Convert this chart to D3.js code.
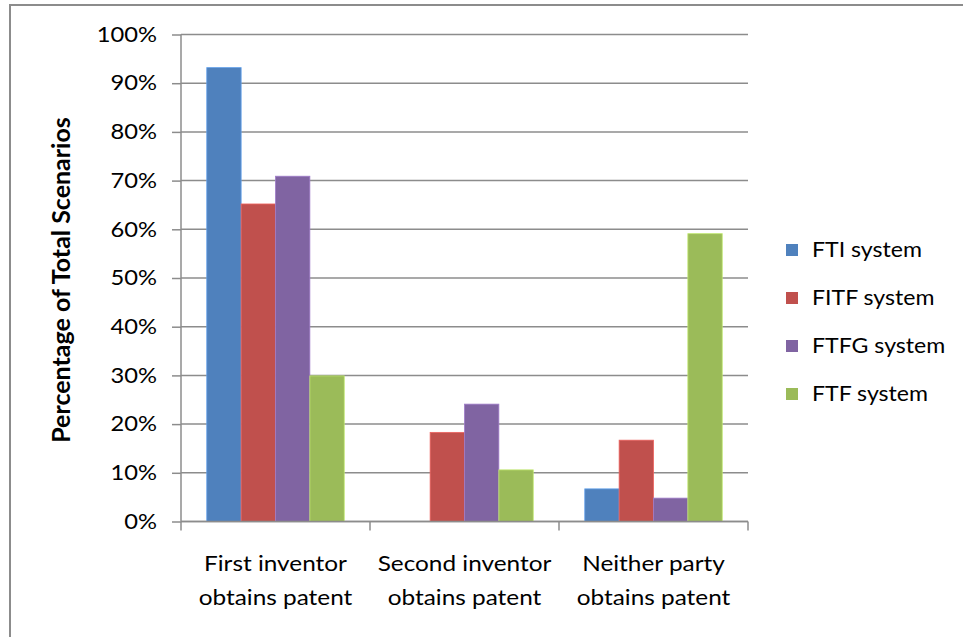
<!DOCTYPE html>
<html>
<head>
<meta charset="utf-8">
<script src="https://cdn.jsdelivr.net/npm/d3@7"></script>
<style>
  html, body { margin: 0; padding: 0; background: #fff; }
  svg { display: block; }
  text { font-family: Lato, "Open Sans", sans-serif; fill: #000; }
</style>
</head>
<body>
<svg id="chart" width="963" height="637"></svg>
<script>
// Outcome categories (two-line labels)
const categories = [
  ["First inventor", "obtains patent"],
  ["Second inventor", "obtains patent"],
  ["Neither party", "obtains patent"]
];
const seriesNames = ["FTI system", "FITF system", "FTFG system", "FTF system"];
const seriesColors = ["#4F81BD", "#C0504D", "#8064A2", "#9BBB59"];
// Share of scenarios (%) per category, one array per system
const fti  = [93.2, 0, 6.7];
const fitf = [65.2, 18.3, 16.7];
const ftfg = [70.9, 24.1, 4.8];
const ftf  = [29.9, 10.6, 59.1];
const seriesValues = [fti, fitf, ftfg, ftf];
const yTicks = [0, 10, 20, 30, 40, 50, 60, 70, 80, 90, 100];

const svg = d3.select("#chart");

// widen glyphs horizontally about a fixed x anchor
function widen(sel, s, anchorX) {
  sel.each(function () {
    const ax = anchorX != null ? anchorX : (+d3.select(this).attr("x") || 0);
    d3.select(this).attr("transform", `translate(${ax},0) scale(${s},1) translate(${-ax},0)`);
  });
}

// outer frame
svg.append("rect")
  .attr("x", 10).attr("y", 5)
  .attr("width", 980).attr("height", 660)
  .attr("fill", "none").attr("stroke", "#8c8c8c").attr("stroke-width", 2);

const plot = { left: 181, right: 748, top: 34.5, bottom: 521.5 };

const y = d3.scaleLinear().domain([0, 100]).range([plot.bottom, plot.top]);
const x0 = d3.scaleBand().domain(d3.range(categories.length)).range([plot.left, plot.right]);
const gapRatio = 1.5;
const barW = x0.bandwidth() / (seriesNames.length + gapRatio);
const x1 = d3.scaleBand().domain(d3.range(seriesNames.length))
  .range([barW * gapRatio / 2, x0.bandwidth() - barW * gapRatio / 2]);

// value axis with tick marks and labels
const yAxis = d3.axisLeft(y).tickValues(yTicks).tickFormat(d => d + "%")
  .tickSize(9).tickPadding(15);
const gy = svg.append("g").attr("transform", `translate(${plot.left},0)`).call(yAxis);
gy.select(".domain").remove();
gy.selectAll(".tick line").attr("stroke", "#8c8c8c").attr("stroke-width", 1.5);
gy.selectAll(".tick text").style("font-size", "21px").attr("fill", "#000")
  .style("font-family", "Lato, sans-serif");
widen(gy.selectAll(".tick text"), 1.13);

// horizontal gridlines
svg.append("g").selectAll("line").data(yTicks).join("line")
  .attr("x1", plot.left).attr("x2", plot.right)
  .attr("y1", d => y(d)).attr("y2", d => y(d))
  .attr("stroke", "#8c8c8c").attr("stroke-width", 1.5);

svg.append("line")
  .attr("x1", plot.left).attr("x2", plot.left)
  .attr("y1", plot.top).attr("y2", plot.bottom)
  .attr("stroke", "#8c8c8c").attr("stroke-width", 1.5);

// clustered bars
const groups = svg.append("g").selectAll("g").data(categories).join("g")
  .attr("transform", (d, i) => `translate(${x0(i)},0)`);
groups.selectAll("rect")
  .data((d, ci) => seriesValues.map((vals, si) => ({ si, v: vals[ci] })))
  .join("rect")
  .filter(d => d.v > 0)
  .attr("x", d => x1(d.si))
  .attr("width", x1.bandwidth())
  .attr("y", d => y(d.v))
  .attr("height", d => y(0) - y(d.v))
  .attr("fill", d => seriesColors[d.si])
  .attr("stroke", d => d3.color(seriesColors[d.si]).brighter(0.6))
  .attr("stroke-width", 0.8);

// category axis
const xAxisG = svg.append("g").attr("transform", `translate(0,${plot.bottom})`);
xAxisG.append("line")
  .attr("x1", plot.left).attr("x2", plot.right)
  .attr("stroke", "#8c8c8c").attr("stroke-width", 1.5);
xAxisG.selectAll("line.tk").data(d3.range(categories.length + 1)).join("line")
  .attr("class", "tk")
  .attr("x1", i => plot.left + i * x0.step()).attr("x2", i => plot.left + i * x0.step())
  .attr("y1", 0).attr("y2", 9)
  .attr("stroke", "#8c8c8c").attr("stroke-width", 1.5);
const catLabels = xAxisG.selectAll("text.cat").data(categories).join("text")
  .attr("class", "cat")
  .attr("text-anchor", "middle")
  .style("font-size", "21px");
catLabels.each(function (d, i) {
  const cx = x0(i) + x0.bandwidth() / 2;
  d3.select(this).selectAll("tspan").data(d).join("tspan")
    .attr("x", cx)
    .attr("y", (t, j) => 50 + j * 34)
    .text(t => t);
  widen(d3.select(this), 1.16, cx);
});

// value axis title
svg.append("text")
  .attr("transform", `translate(70,${(plot.top + plot.bottom) / 2 + 2}) rotate(-90)`)
  .attr("text-anchor", "middle")
  .style("font-size", "25px").style("font-weight", "bold")
  .text("Percentage of Total Scenarios");

// legend
const legend = svg.append("g").attr("transform", "translate(786,250)");
const li = legend.selectAll("g").data(seriesNames).join("g")
  .attr("transform", (d, i) => `translate(0,${i * 48})`);
li.append("rect").attr("x", 0).attr("y", -6).attr("width", 12).attr("height", 12)
  .attr("fill", (d, i) => seriesColors[i]);
const legText = li.append("text").attr("x", 26).attr("y", 0).attr("dy", "0.35em")
  .style("font-size", "21px").text(d => d);
widen(legText, 1.1);
</script>
</body>
</html>
